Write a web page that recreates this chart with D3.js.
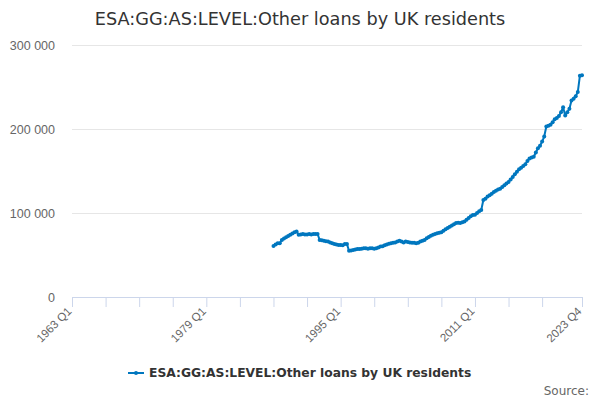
<!DOCTYPE html>
<html>
<head>
<meta charset="utf-8">
<script src="https://cdn.jsdelivr.net/npm/d3@7"></script>
<style>
  body { margin: 0; background: #fff; }
  svg { font-family: "DejaVu Sans", Verdana, sans-serif; }
</style>
</head>
<body>
<div id="chart"></div>
<script>
// quarterly series, 1963 Q1 .. 2023 Q4; data only from 1987 Q1
const firstYear = 1963;
const dataStartYear = 1987;
const seriesName = "ESA:GG:AS:LEVEL:Other loans by UK residents";
const values = [
  60700, 62500, 64000, 64000,   // 1987
  68000, 69500, 71000, 72500,   // 1988
  74000, 75500, 77000, 78000,   // 1989
  74000, 74500, 75000, 74500,   // 1990
  74500, 75000, 74500, 75000,   // 1991
  75000, 75000, 68000, 67500,   // 1992
  67000, 66500, 66000, 65000,   // 1993
  64000, 63000, 62500, 62000,   // 1994
  62000, 61500, 63000, 63000,   // 1995
  55000, 55500, 56000, 56500,   // 1996
  57000, 57000, 57500, 58000,   // 1997
  58000, 57500, 58000, 58000,   // 1998
  57500, 58000, 59000, 60000,   // 1999
  60500, 61500, 62500, 63500,   // 2000
  64000, 64500, 65000, 66000,   // 2001
  67000, 66000, 65000, 66000,   // 2002
  65500, 65000, 64500, 64500,   // 2003
  64000, 64500, 66000, 67000,   // 2004
  68000, 70000, 71500, 73000,   // 2005
  74000, 75000, 76000, 76500,   // 2006
  77000, 79000, 80600, 82000,   // 2007
  83500, 85000, 86500, 88000,   // 2008
  88500, 88000, 89000, 90000,   // 2009
  92000, 94000, 96000, 97600,   // 2010
  98000, 100000, 102000, 103600, // 2011
  115500, 117000, 119500, 121000, // 2012
  123000, 125000, 126600, 128000, // 2013
  129000, 131000, 133000, 135000, // 2014
  137000, 140000, 143000, 146000, // 2015
  149000, 152000, 154000, 156000, // 2016
  158000, 162000, 165000, 166000, // 2017
  167000, 172000, 177000, 180000, // 2018
  185000, 191000, 203000, 204000, // 2019
  205000, 208000, 211500, 213000, // 2020
  215500, 220000, 226000, 216000, // 2021
  220000, 224000, 234000, 236000, // 2022
  239000, 244000, 263500, 264000  // 2023
];
const yTicks = [0, 100000, 200000, 300000];
const xTickQuarters = [0, 16, 32, 48, 64, 80, 96, 112, 128, 144, 160, 176, 192, 208, 224, 243];
const xLabelQuarters = [0, 64, 128, 192, 243];

const W = 600, H = 400;
const margin = { top: 45, right: 18, bottom: 103, left: 72 };
const lastQ = 243;

const quarterLabel = q => `${firstYear + Math.floor(q / 4)} Q${q % 4 + 1}`;
const startQ = (dataStartYear - firstYear) * 4;
const data = values.map((v, i) => ({ q: startQ + i, v }));

const svg = d3.select("#chart").append("svg")
  .attr("width", W).attr("height", H);

const x = d3.scaleLinear().domain([0, lastQ]).range([margin.left, W - margin.right]);
const y = d3.scaleLinear().domain([0, 300000]).range([H - margin.bottom, margin.top]);

// title
svg.append("text")
  .attr("x", W / 2).attr("y", 25)
  .attr("text-anchor", "middle")
  .style("font-size", "17.7px").style("fill", "#333")
  .text(seriesName);

// gridlines + y labels
const fmt = v => d3.format(",")(v).replace(/,/g, " ");
const yAxis = svg.append("g")
  .attr("transform", `translate(${margin.left},0)`)
  .call(d3.axisLeft(y).tickValues(yTicks).tickSize(-(W - margin.left - margin.right)).tickFormat(fmt).tickPadding(17));
yAxis.select(".domain").remove();
yAxis.selectAll(".tick line").attr("stroke", "#e6e6e6");
yAxis.selectAll(".tick text").style("fill", "#666").style("font-size", "12.5px").attr("dy", "0.32em");

// x axis
const xAxis = svg.append("g")
  .attr("transform", `translate(0,${H - margin.bottom})`)
  .call(d3.axisBottom(x).tickValues(xTickQuarters).tickSize(10).tickSizeOuter(0)
    .tickFormat(q => xLabelQuarters.includes(q) ? quarterLabel(q) : ""));
xAxis.select(".domain").attr("stroke", "#ccd6eb");
xAxis.selectAll(".tick line").attr("stroke", "#ccd6eb");
xAxis.selectAll(".tick text")
  .style("fill", "#666").style("font-size", "11.5px")
  .attr("text-anchor", "end")
  .attr("transform", "translate(-3,12) rotate(-45)")
  .attr("y", 0).attr("dy", "0.35em");

// series
const lineColor = "#0077bf";
const line = d3.line().x(d => x(d.q)).y(d => y(d.v));
svg.append("path")
  .datum(data)
  .attr("fill", "none")
  .attr("stroke", lineColor)
  .attr("stroke-width", 2)
  .attr("stroke-linejoin", "round")
  .attr("d", line);
svg.append("g").selectAll("circle")
  .data(data).join("circle")
  .attr("cx", d => x(d.q)).attr("cy", d => y(d.v))
  .attr("r", 2).attr("fill", lineColor);

// legend
const legend = svg.append("g").attr("transform", "translate(128,373)");
legend.append("line").attr("x1", 0).attr("x2", 16).attr("y1", 0).attr("y2", 0)
  .attr("stroke", lineColor).attr("stroke-width", 2);
legend.append("circle").attr("cx", 8).attr("cy", 0).attr("r", 2).attr("fill", lineColor);
legend.append("text").attr("x", 21).attr("y", 0).attr("dy", "0.35em")
  .style("font-size", "12.3px").style("font-weight", "bold").style("fill", "#333")
  .text(seriesName);

// credits
svg.append("text")
  .attr("x", W - 11).attr("y", 395)
  .attr("text-anchor", "end")
  .style("font-size", "12px").style("fill", "#666")
  .text("Source:");
</script>
</body>
</html>
